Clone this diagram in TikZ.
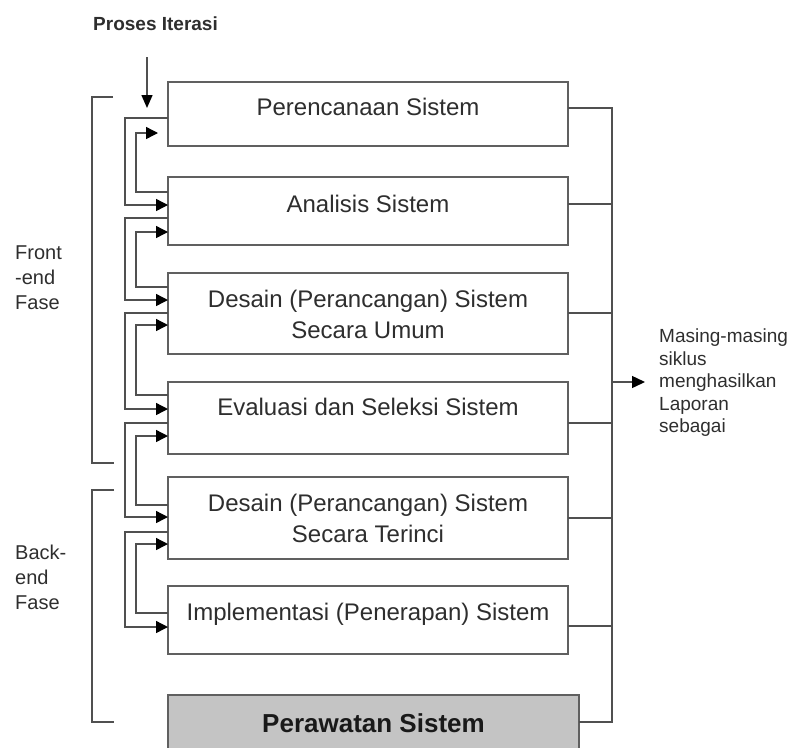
\documentclass[tikz,border=0pt]{standalone}
\usepackage{fontspec}
\setmainfont{Liberation Sans}
\usetikzlibrary{arrows.meta,calc}
\definecolor{linec}{HTML}{505050}
\definecolor{boxc}{HTML}{606060}
\definecolor{textc}{HTML}{2E2E2E}
\definecolor{fillc}{HTML}{C4C4C4}
\begin{document}
\begin{tikzpicture}[x=1pt,y=-1pt,
  box/.style={draw=boxc, line width=1.6pt, fill=white, minimum width=400pt,
    inner sep=0pt, outer sep=0pt, anchor=north west},
  lbl/.style={font=\fontsize{24}{28}\selectfont, text=textc, inner sep=0pt, anchor=base},
  side/.style={font=\fontsize{20}{25}\selectfont, text=textc, inner sep=0pt, anchor=west, align=left},
  conn/.style={draw=linec, line width=1.4pt},
  arr/.style={-{Triangle[length=12pt,width=12pt,color=black]}},
]
\useasboundingbox (0,0) rectangle (791,747);
\clip (0,0) rectangle (791,747);

% boxes
\node[box, minimum height=64pt] (b1) at (168,82) {};
\node[box, minimum height=68pt] (b2) at (168,177) {};
\node[box, minimum height=81pt] (b3) at (168,273) {};
\node[box, minimum height=72pt] (b4) at (168,382) {};
\node[box, minimum height=82pt] (b5) at (168,477) {};
\node[box, minimum height=68pt] (b6) at (168,586) {};
\node[box, fill=fillc, minimum width=411pt, minimum height=70pt] (b7) at (168,695) {};

% box texts
\node[lbl] (t1) at (368,115) {Perencanaan Sistem};
\node[lbl] (t2) at (368,212) {Analisis Sistem};
\node[lbl] (t3a) at (368,307) {Desain (Perancangan) Sistem};
\node[lbl] (t3b) at (368,338) {Secara Umum};
\node[lbl] (t4) at (368,415) {Evaluasi dan Seleksi Sistem};
\node[lbl] (t5a) at (368,511) {Desain (Perancangan) Sistem};
\node[lbl] (t5b) at (368,542) {Secara Terinci};
\node[lbl] (t6) at (368,620) {Implementasi (Penerapan) Sistem};
\node[lbl, font=\fontsize{26}{30}\selectfont\bfseries, text=black!90] (t7) at (373.5,732) {Perawatan Sistem};

% top label and iteration arrow
\node[inner sep=0pt, anchor=base west, font=\fontsize{19}{22}\selectfont\bfseries, text=textc] (pi) at (93,30) {Proses Iterasi};
\coordinate (itA) at (147,57);
\coordinate (itB) at (147,108);
\draw[conn, -{Triangle[length=13pt,width=11pt,color=black]}] (itA) -- (itB);

% side labels
\node[side] (fe) at (15,277.5) {Front\\-end\\Fase};
\node[side] (be) at (15,577) {Back-\\end\\Fase};

% brackets
\draw[conn] (113,97) -- (92,97) -- (92,463) -- (114,463);
\draw[conn] (114,490) -- (92,490) -- (92,722) -- (114,722);

% forward (outer) connectors
\draw[conn, arr] (b1.west |- 0,118) -- ++(-43,0) |- (b2.west |- 0,205);
\draw[conn, arr] (b2.west |- 0,218) -- ++(-43,0) |- (b3.west |- 0,300);
\draw[conn, arr] (b3.west |- 0,313) -- ++(-43,0) |- (b4.west |- 0,409);
\draw[conn, arr] (b4.west |- 0,423) -- ++(-43,0) |- (b5.west |- 0,517);
\draw[conn, arr] (b5.west |- 0,532) -- ++(-43,0) |- (b6.west |- 0,627);

% backward (inner) connectors
\draw[conn, arr, shorten >=10pt] (b2.west |- 0,192) -- ++(-32,0) |- (b1.west |- 0,133);
\draw[conn, arr] (b3.west |- 0,287) -- ++(-32,0) |- (b2.west |- 0,232);
\draw[conn, arr] (b4.west |- 0,395) -- ++(-32,0) |- (b3.west |- 0,325);
\draw[conn, arr] (b5.west |- 0,505) -- ++(-32,0) |- (b4.west |- 0,436);
\draw[conn, arr] (b6.west |- 0,613) -- ++(-32,0) |- (b5.west |- 0,544);

% right bus
\coordinate (bt) at (612,108);
\coordinate (bb) at (612,722);
\draw[conn] (b1.east |- bt) -- (bt) -- (bb) -- (b7.east |- bb);
\draw[conn] (b2.east |- 0,204) -- (bt |- 0,204);
\draw[conn] (b3.east |- 0,313) -- (bt |- 0,313);
\draw[conn] (b4.east |- 0,423) -- (bt |- 0,423);
\draw[conn] (b5.east |- 0,518) -- (bt |- 0,518);
\draw[conn] (b6.east |- 0,626) -- (bt |- 0,626);

\node[inner sep=0pt, anchor=west, align=left, font=\fontsize{19}{22.5}\selectfont, text=textc] (tr) at (659,383)
  {Masing-masing\\siklus\\menghasilkan\\Laporan\\sebagai};
\draw[conn, -{Triangle[length=13pt,width=12pt,color=black]}] (bt |- 0,382) -- ([xshift=-14pt]tr.west |- 0,382);
\end{tikzpicture}
\end{document}
